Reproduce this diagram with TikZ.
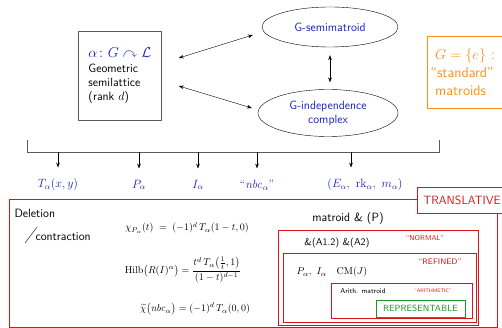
\documentclass[tikz,border=0pt]{standalone}
\usepackage{amsmath,amssymb}
\usetikzlibrary{arrows.meta,shapes.geometric}
\definecolor{hblue}{RGB}{25,35,185}
\definecolor{hred}{RGB}{220,20,25}
\definecolor{horange}{RGB}{250,145,20}
\definecolor{hgreen}{RGB}{25,150,40}
\definecolor{hgray}{RGB}{90,90,90}
\begin{document}
\begin{tikzpicture}[x=1pt,y=-1pt,font=\sffamily,>=Stealth,
  blob/.style={ellipse,draw,thin,text=hblue,align=center,font=\sffamily\large},
  inv/.style={text=hblue,font=\large},
  redbox/.style={draw=hred,semithick},
  tag/.style={text=hred,font=\sffamily\scriptsize}]
\useasboundingbox (0,0) rectangle (502,328);
\clip (0,0) rectangle (502,328);
\node[draw=hgray,thick,anchor=north west,minimum width=83,minimum height=89,align=left,font=\sffamily\large,inner sep=4pt] (lat) at (78,31)
  {\textcolor{hblue}{\Large$\alpha\colon G\curvearrowright\mathcal{L}$}\\[1pt]Geometric\\semilattice\\(rank $d$)};
\node[blob,minimum width=136,minimum height=40] (semi) at (330,27) {G-semimatroid};
\node[blob,minimum width=140,minimum height=47,inner sep=1pt] (indep) at (328,113) {G-independence\\complex};
\node[draw=horange,thick,anchor=north west,minimum height=72,text width=80,align=left,text=horange,font=\sffamily\Large,inner sep=3pt] (std) at (427,36)
  {\ $G=\{e\}$ :\\``standard''\\\ matroids};
\draw[<->] ([shift={(17,27)}]lat.north east) -- ([shift={(-9,8)}]semi.west);
\draw[<->] ([shift={(17,55)}]lat.north east) -- ([shift={(-6,-5)}]indep.west);
\draw[<->,shorten <=8pt,shorten >=7pt] (semi.south) -- (semi.south |- indep.north);
\coordinate (bl) at (27,140);
\coordinate (br) at (439,140);
\coordinate (bb) at (0,152);
\draw[hgray,thick] (bl) |- (br |- bb) -- (br);
\node[inv] (tut) at (58,185) {$T_\alpha(x,y)$};
\node[inv] (pol) at (139,185) {$P_\alpha$};
\node[inv] (ide) at (198,185) {$I_\alpha$};
\node[inv] (nbc) at (257,185) {``$\mathit{nbc}_\alpha$''};
\node[inv] (ari) at (365,185) {$(E_\alpha,\ \mathrm{rk}_\alpha,\ m_\alpha)$};
\foreach \n/\dx in {tut/0,pol/0,ide/0,nbc/0,ari/-14}
  \draw[->,shorten >=8pt] ([xshift=\dx pt]\n.north |- bb) -- ([xshift=\dx pt]\n.north);
\draw[redbox,thick] (9,199) rectangle (497,327);
\node[draw=hred,thick,fill=white,text=hred,anchor=north west,minimum height=26,inner xsep=6pt,font=\sffamily\large] (transl) at (417,187) {TRANSLATIVE};
\node[anchor=west,font=\sffamily\large] (del) at (11,213) {Deletion};
\node[anchor=west,font=\sffamily\large] (con) at (32,237) {contraction};
\draw ([shift={(-7,6)}]con.west) -- ([shift={(5,-10)}]con.west);
\node (chi) at (187,228) {$\chi_{P_\alpha}(t)\;=\;(-1)^d\,T_\alpha(1-t,0)$};
\node (hilb) at (183,270) {$\mathrm{Hilb}\bigl(R(I)^\alpha\bigr)=\dfrac{t^d\,T_\alpha\bigl(\frac1t,1\bigr)}{(1-t)^{d-1}}$};
\node (ech) at (195,309) {$\widetilde{\chi}\bigl(\mathit{nbc}_\alpha\bigr)=(-1)^d\,T_\alpha(0,0)$};
\node[font=\sffamily\large] (mat) at (348,219) {matroid \& (P)};
\draw[redbox] (278,230) rectangle (478,325);
\node (axi) at (337,243) {\&(A1.2) \&(A2)};
\node[tag] (nor) at (425,238) {``NORMAL''};
\draw[redbox] (283,253) rectangle (476,322);
\node[tag,font=\sffamily\footnotesize] (ref) at (440,262) {``REFINED''};
\node (cm) at (332,272) {$P_\alpha,\ I_\alpha\quad \mathrm{CM}(J)$};
\draw[redbox] (331,283) rectangle (472,318);
\node[font=\sffamily\scriptsize] (arm) at (363,291) {Arith. matroid};
\node[tag,font=\sffamily\tiny] (ant) at (433,291) {``ARITHMETIC''};
\node[draw=hgreen,semithick,text=hgreen,minimum width=89,minimum height=17,inner sep=1pt,font=\sffamily\small] (rep) at (420.5,308.5) {REPRESENTABLE};
\end{tikzpicture}
\end{document}
